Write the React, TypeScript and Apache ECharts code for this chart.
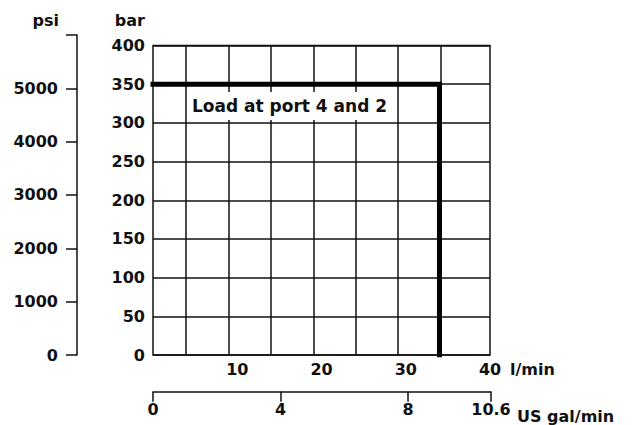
import React, { useEffect, useRef } from "react";
import * as echarts from "echarts";

// ---- data ----
const flowLpmRange = [0, 40];
const flowLpmInterval = 10;
const pressureBarRange = [0, 400];
const pressureBarInterval = 50;
const pressurePsiRange = [0, 6000];
const pressurePsiInterval = 1000;
const flowGalRange = [0, 10.6];
const flowGalInterval = 4;
const verticalGridLpm = [3.9, 9.05, 14, 19.1, 24.1, 29, 34.2];
const loadFlowLpm = [0, 34, 34];
const loadPressureBar = [350, 350, 0];
const annotation = "Load at port 4 and 2";
const PSI_PER_BAR = 14.5038;

const FONT = "'DejaVu Sans', 'Noto Sans', sans-serif";
const INK = "#111";

export default function App() {
  const ref = useRef<HTMLDivElement>(null);
  useEffect(() => {
    if (!ref.current) return;
    const chart = echarts.init(ref.current, undefined, { renderer: "svg" });

    const left = 153;
    const top = 45.5;
    const right = 490;
    const bottom = 355;
    const h = bottom - top;
    const psiTopBar = pressurePsiRange[1] / PSI_PER_BAR;
    const psiHeight = (psiTopBar / pressureBarRange[1]) * h;

    const txt = { fontFamily: FONT, fontWeight: "bold" as const, fontSize: 16, color: INK };

    chart.setOption({
      animation: false,
      backgroundColor: "#fff",
      grid: [
        { left, top, width: right - left, height: h, show: true, borderColor: INK, borderWidth: 1.5 },
        { left: 77, top: bottom - psiHeight, width: 1, height: psiHeight },
        { left, top: 381.7, width: 491 - left, height: 10 },
      ],
      xAxis: [
        {
          gridIndex: 0,
          type: "value",
          min: flowLpmRange[0],
          max: flowLpmRange[1],
          interval: flowLpmInterval,
          name: "l/min",
          nameLocation: "end",
          nameGap: 20,
          nameTextStyle: { ...txt, align: "left", verticalAlign: "top", padding: [6, 0, 0, 0] },
          axisLine: { show: false },
          axisTick: { show: false },
          splitLine: { show: false },
          axisLabel: { ...txt, margin: 6, formatter: (v: number) => (v === 0 ? "" : String(v)) },
        },
        { gridIndex: 1, type: "value", show: false },
        {
          gridIndex: 2,
          type: "value",
          position: "bottom",
          min: flowGalRange[0],
          max: flowGalRange[1],
          interval: flowGalInterval,
          name: "US gal/min",
          nameLocation: "end",
          nameGap: 26,
          nameTextStyle: { ...txt, align: "left", verticalAlign: "top", padding: [17, 0, 0, 0] },
          axisLine: { show: true, lineStyle: { color: INK, width: 1.5 } },
          axisTick: { show: true, length: 10, lineStyle: { color: INK, width: 1.5 } },
          splitLine: { show: false },
          axisLabel: { ...txt, margin: 10, showMaxLabel: true, showMinLabel: true },
        },
      ],
      yAxis: [
        {
          gridIndex: 0,
          type: "value",
          min: pressureBarRange[0],
          max: pressureBarRange[1],
          interval: pressureBarInterval,
          name: "bar",
          nameLocation: "end",
          nameGap: 25,
          nameTextStyle: { ...txt, align: "right", verticalAlign: "middle", padding: [0, 8, 0, 0] },
          axisLine: { show: false },
          axisTick: { show: false },
          splitLine: { show: true, lineStyle: { color: INK, width: 1.5 } },
          axisLabel: { ...txt, margin: 8 },
        },
        {
          gridIndex: 1,
          type: "value",
          position: "left",
          min: pressurePsiRange[0],
          max: pressurePsiRange[1],
          interval: pressurePsiInterval,
          name: "psi",
          nameLocation: "end",
          nameGap: 14,
          nameTextStyle: { ...txt, align: "right", verticalAlign: "middle", padding: [0, 18, 0, 0] },
          axisLine: { show: true, lineStyle: { color: INK, width: 1.5 } },
          axisTick: { show: true, length: 11, lineStyle: { color: INK, width: 1.5 } },
          splitLine: { show: false },
          axisLabel: {
            ...txt,
            margin: 19,
            formatter: (v: number) => (v === pressurePsiRange[1] ? "" : String(v)),
          },
        },
        { gridIndex: 2, type: "value", show: false },
      ],
      series: [
        {
          type: "line",
          xAxisIndex: 0,
          yAxisIndex: 0,
          data: loadFlowLpm.map((x, i) => [x, loadPressureBar[i]]),
          symbol: "none",
          silent: true,
          lineStyle: { color: "#000", width: 5, cap: "square", join: "miter" },
          markLine: {
            silent: true,
            symbol: ["none", "none"],
            label: { show: false },
            lineStyle: { type: "solid", color: INK, width: 1.5 },
            data: verticalGridLpm.map((v) => ({ xAxis: v })),
            z: 1,
          },
          z: 5,
        },
      ],
      graphic: [
        {
          type: "rect",
          shape: { x: 187.5, y: 92, width: 208.5, height: 28 },
          style: { fill: "#fff" },
          z: 9,
        },
        {
          type: "text",
          left: 192,
          top: 97,
          style: { text: annotation, font: `bold 17px ${FONT}`, fill: INK },
          z: 10,
        },
      ],
    });
    return () => chart.dispose();
  }, []);
  return (
    <div
      ref={ref}
      style={{ position: "fixed", left: 0, top: 0, width: 643, height: 425, background: "#fff" }}
    />
  );
}
